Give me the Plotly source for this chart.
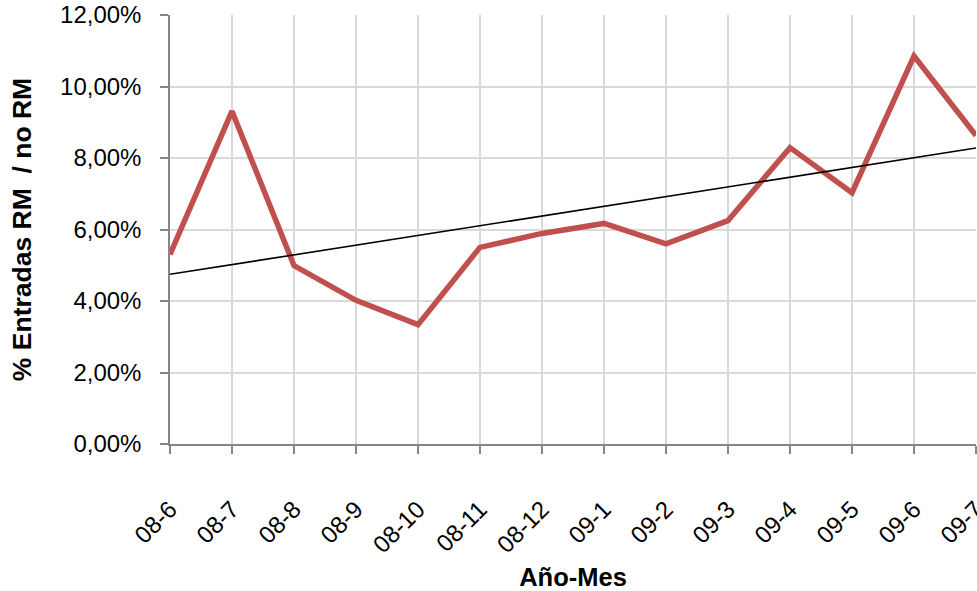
import numpy as np
import plotly.graph_objects as go

# Monthly share of entries (RM / no RM)
months = ["08-6", "08-7", "08-8", "08-9", "08-10", "08-11", "08-12",
          "09-1", "09-2", "09-3", "09-4", "09-5", "09-6", "09-7"]
share = [0.0530, 0.0931, 0.0499, 0.0402, 0.0334, 0.0550, 0.0589,
         0.0617, 0.0560, 0.0625, 0.0829, 0.0703, 0.1085, 0.0863]
y_ticks = [0.0, 0.02, 0.04, 0.06, 0.08, 0.10, 0.12]

# Linear trend line (least squares over month index)
idx = np.arange(len(months))
slope, intercept = np.polyfit(idx, share, 1)
trend = intercept + slope * idx

FONT = "Liberation Sans, Arial, sans-serif"
GRID = "#d9d9d9"
AXIS = "#868686"

fig = go.Figure()
fig.add_trace(go.Scatter(
    x=months, y=share, mode="lines",
    line=dict(color="#C0504D", width=5.5),
    showlegend=False, hoverinfo="x+y",
))
fig.add_trace(go.Scatter(
    x=months, y=trend, mode="lines",
    line=dict(color="#000000", width=1.6),
    showlegend=False, hoverinfo="skip",
))

fig.update_layout(
    width=977, height=591, autosize=False,
    margin=dict(l=170, r=1, t=15, b=146.5, pad=0),
    paper_bgcolor="white", plot_bgcolor="white",
    separators=",.",
    font=dict(family=FONT, color="#000000", size=24),
)
fig.update_xaxes(
    type="category", range=[0, len(months) - 1],
    tickangle=-45, tickfont=dict(size=24),
    showgrid=True, gridcolor=GRID, gridwidth=1.5,
    showline=True, linecolor=AXIS, linewidth=1.5,
    ticks="outside", ticklen=8, tickwidth=1.5, tickcolor=AXIS,
    ticklabelstandoff=32,
    title=dict(text="<b>Año-Mes</b>", font=dict(size=25.5), standoff=14),
    automargin=False, zeroline=False,
)
fig.update_yaxes(
    range=[0, 0.12], tickvals=y_ticks, tickformat=".2%",
    tickfont=dict(size=24),
    showgrid=True, gridcolor=GRID, gridwidth=1.5,
    showline=True, linecolor=AXIS, linewidth=1.5,
    ticks="outside", ticklen=8, tickwidth=1.5, tickcolor=AXIS,
    ticklabelstandoff=14,
    title=dict(text="<b>% Entradas RM  / no RM</b>", font=dict(size=26.5), standoff=21),
    automargin=False, zeroline=False,
)

fig.write_html("out.html")
